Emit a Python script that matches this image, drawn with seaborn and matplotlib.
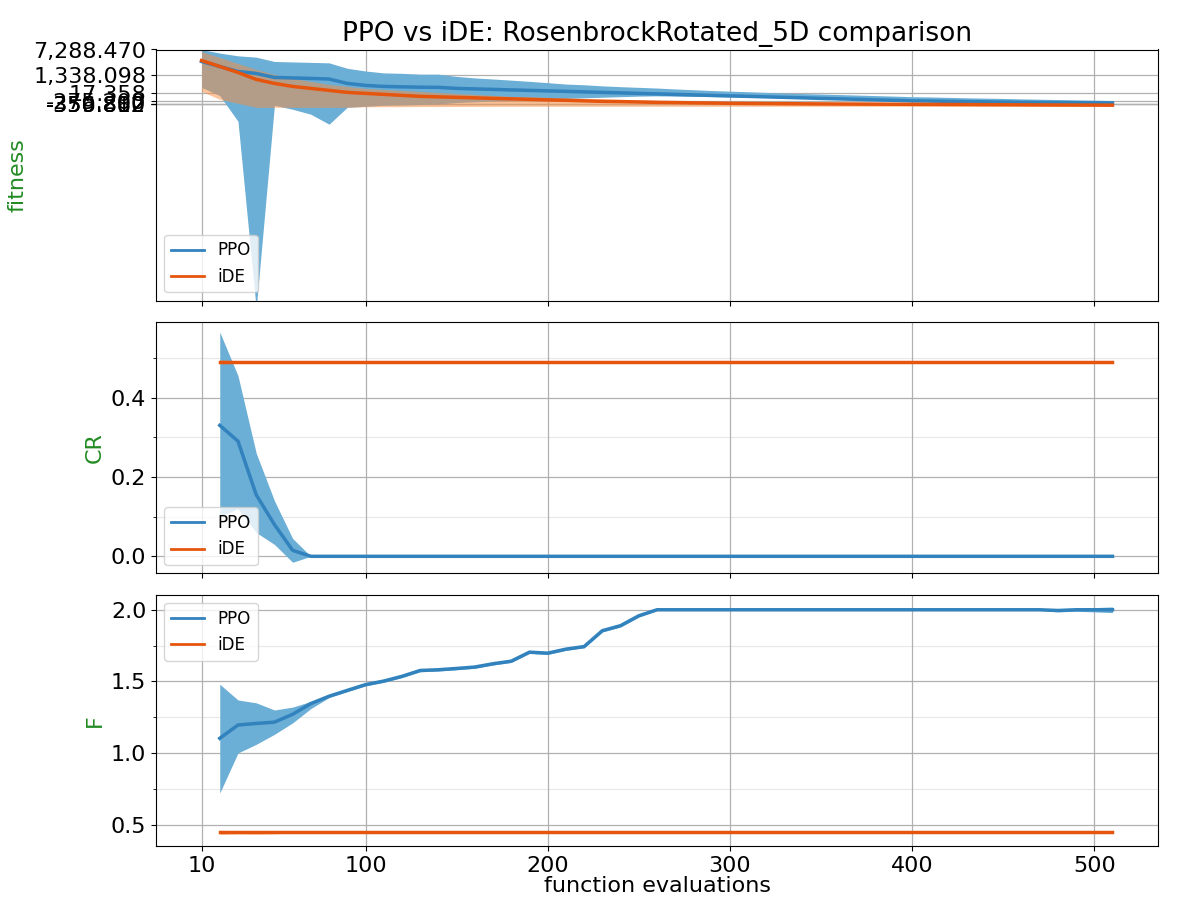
import numpy as np
import pandas as pd
import matplotlib
matplotlib.use("Agg")
import matplotlib.pyplot as plt
import matplotlib.ticker as mticker
import seaborn as sns

# ---------------- data ----------------
x_fit = list(range(10, 520, 10))          # 51 points
x_par = list(range(20, 520, 10))          # 50 points

ppo_fit_mean = [3497, 2503, 1738, 1484, 1049, 1000, 953, 900, 545, 409, 346, 320, 300, 290,
                230, 203, 177, 150, 126, 101, 78, 55, 32, 10, -12, -33, -53, -73, -92, -111,
                -129, -147, -164, -181, -198, -214, -229, -245, -259, -274, -280, -288, -295,
                -301, -308, -315, -318, -322, -325, -328, -330]
ppo_fit_up = [7250, 5900, 5000, 4600, 3500, 3400, 3300, 3200, 2200, 1800, 1550, 1500, 1400, 1400,
              1150, 1000, 900, 800, 700, 600, 500, 450, 380, 330, 290, 250, 200, 160, 120, 90,
              60, 30, 0, -20, -40, -60, -80, -100, -120, -140, -150, -165, -180, -190, -200,
              -215, -225, -235, -245, -255, -265]
ppo_fit_lo = [287, -100, -633, -819.99, -388, -469, -550, -660, -431, -410, -388, -380, -370,
              -360, -320, -300, -280, -260, -240, -220, -200, -180, -160, -140, -120, -110,
              -120, -130, -140, -150, -160, -170, -180, -195, -210, -225, -240, -255, -270,
              -285, -295, -305, -312, -320, -327, -333, -338, -342, -345, -348, -350]

ide_fit_mean = [3729, 2503, 1608, 863, 545, 346, 230, 126, 32, -12, -53, -92, -129, -147, -164,
                -181, -198, -214, -229, -245, -259, -274, -288, -295, -305, -315, -320, -328,
                -333, -340, -343, -346, -349, -352, -355, -357, -359, -361, -363, -365, -367,
                -369, -371, -373, -375, -377, -379, -381, -382, -383, -385]
ide_fit_up = [6467, 4504, 3066, 2020, 1375, 953, 696, 475, 346, 230, 177, 126, 78, 32, -12,
              -53, -92, -129, -147, -164, -181, -198, -214, -229, -245, -259, -274, -288,
              -295, -305, -312, -318, -323, -328, -332, -336, -339, -342, -345, -348, -350,
              -352, -354, -356, -358, -360, -362, -364, -366, -368, -370]
ide_fit_lo = [78, -229, -340, -431, -431, -431, -431, -431, -431, -420, -420, -418, -416, -415,
              -414, -413, -412, -411, -410, -410, -410, -410, -410, -410, -410, -410, -410,
              -410, -410, -410, -410, -410, -410, -410, -410, -410, -410, -410, -410, -410,
              -410, -410, -410, -410, -410, -410, -410, -410, -410, -410, -410]

ppo_cr_mean = [0.33, 0.29, 0.155, 0.08, 0.015, 0.0] + [0.0] * 44
ppo_cr_up = [0.565, 0.455, 0.26, 0.14, 0.045, 0.0] + [0.0] * 44
ppo_cr_lo = [0.10, 0.12, 0.06, 0.03, -0.015, 0.0] + [0.0] * 44
ide_cr_mean = [0.49] * 50
ide_cr_up = [0.495, 0.493, 0.492, 0.492, 0.492, 0.492] + [0.491] * 44
ide_cr_lo = [0.485, 0.487, 0.488, 0.488, 0.488, 0.488] + [0.489] * 44

ppo_f_mean = [1.102, 1.195, 1.206, 1.215, 1.27, 1.345, 1.396, 1.437, 1.477, 1.502, 1.535, 1.576,
              1.581, 1.59, 1.60, 1.623, 1.641, 1.704, 1.697, 1.725, 1.743, 1.854, 1.889, 1.958,
              2.0] + [2.0] * 21 + [1.995, 2.0, 2.0, 2.0]
ppo_f_up = [1.48, 1.37, 1.35, 1.30, 1.32, 1.36, 1.405, 1.446, 1.486, 1.511, 1.544, 1.585,
            1.59, 1.599, 1.609, 1.632, 1.65, 1.713, 1.706, 1.734, 1.752, 1.863, 1.898, 1.967,
            2.005] + [2.005] * 21 + [2.005, 2.01, 2.015, 2.02]
ppo_f_lo = [0.72, 1.0, 1.06, 1.13, 1.21, 1.31, 1.387, 1.428, 1.468, 1.493, 1.526, 1.567,
            1.572, 1.581, 1.591, 1.614, 1.632, 1.695, 1.688, 1.716, 1.734, 1.845, 1.88, 1.949,
            1.995] + [1.995] * 21 + [1.985, 1.99, 1.985, 1.98]
ide_f_mean = [0.445] * 50
ide_f_up = [0.46, 0.455, 0.458, 0.455, 0.45, 0.448] + [0.447] * 44
ide_f_lo = [0.43, 0.435, 0.432, 0.435, 0.44, 0.442] + [0.443] * 44

fit_ticks = [7288.470, 1338.098, 17.358, -275.200, -350.880, -356.812, -359.802]
x_ticks = [10, 100, 200, 300, 400, 500]

OFFSET = 820.0
PPO_LINE, PPO_FILL = "#3182bd", "#6baed6"
IDE_LINE, IDE_FILL = "#e6550d", "#fd8d3c"
GREEN = "#228b22"

plt.rcParams["font.family"] = ["DejaVu Sans"]

fig, axes = plt.subplots(3, 1, figsize=(12, 9), dpi=100, sharex=True)
fig.subplots_adjust(left=0.13, right=0.965, top=0.945, bottom=0.06, hspace=0.085)


def fwd(v):
    return np.log10(np.maximum(np.asarray(v, dtype=float) + OFFSET, 1e-6))


def inv(t):
    return np.power(10.0, t) - OFFSET


def panel(ax, xs, pm, pu, pl, im, iu, il, label, loc):
    ax.fill_between(xs, pl, pu, color=PPO_FILL, alpha=1.0, linewidth=0, zorder=2)
    ax.fill_between(xs, il, iu, color=IDE_FILL, alpha=0.5, linewidth=0, zorder=3)
    df = pd.DataFrame({"x": list(xs) * 2, "y": list(pm) + list(im),
                       "method": ["PPO"] * len(xs) + ["iDE"] * len(xs)})
    sns.lineplot(data=df, x="x", y="y", hue="method", palette={"PPO": PPO_LINE, "iDE": IDE_LINE},
                 linewidth=2.5, ax=ax, zorder=4, legend=False)
    ax.plot([], [], color=PPO_LINE, lw=2, label="PPO")
    ax.plot([], [], color=IDE_LINE, lw=2, label="iDE")
    ax.legend(loc=loc, fontsize=12)
    ax.set_ylabel(label, color=GREEN, fontsize=16)
    ax.set_xlabel("")
    ax.tick_params(labelsize=16)
    ax.grid(True, which="major", color="#b0b0b0", linewidth=0.9)


ax1, ax2, ax3 = axes
ax1.set_yscale("function", functions=(fwd, inv))
panel(ax1, x_fit, ppo_fit_mean, ppo_fit_up, ppo_fit_lo, ide_fit_mean, ide_fit_up, ide_fit_lo,
      "fitness", "lower left")
ax1.set_ylim(-819.985, 7288.47)
ax1.yaxis.set_major_locator(mticker.FixedLocator(fit_ticks))
ax1.yaxis.set_major_formatter(mticker.FuncFormatter(lambda v, p: f"{v:,.3f}"))
ax1.yaxis.set_minor_locator(mticker.NullLocator())
ax1.set_title("PPO vs iDE: RosenbrockRotated_5D comparison", fontsize=19)

panel(ax2, x_par, ppo_cr_mean, ppo_cr_up, ppo_cr_lo, ide_cr_mean, ide_cr_up, ide_cr_lo,
      "CR", "lower left")
ax2.set_ylim(-0.043, 0.59)
ax2.yaxis.set_major_locator(mticker.MultipleLocator(0.2))
ax2.yaxis.set_minor_locator(mticker.MultipleLocator(0.1))
ax2.grid(True, which="minor", color="#b0b0b0", alpha=0.3)

panel(ax3, x_par, ppo_f_mean, ppo_f_up, ppo_f_lo, ide_f_mean, ide_f_up, ide_f_lo,
      "F", "upper left")
ax3.set_ylim(0.35, 2.105)
ax3.yaxis.set_major_locator(mticker.MultipleLocator(0.5))
ax3.yaxis.set_minor_locator(mticker.MultipleLocator(0.25))
ax3.grid(True, which="minor", color="#b0b0b0", alpha=0.3)

ax3.set_xlim(-15, 535)
ax3.xaxis.set_major_locator(mticker.FixedLocator(x_ticks))
ax3.set_xlabel("function evaluations", fontsize=16, labelpad=0)

fig.savefig("out.png", dpi=100)
